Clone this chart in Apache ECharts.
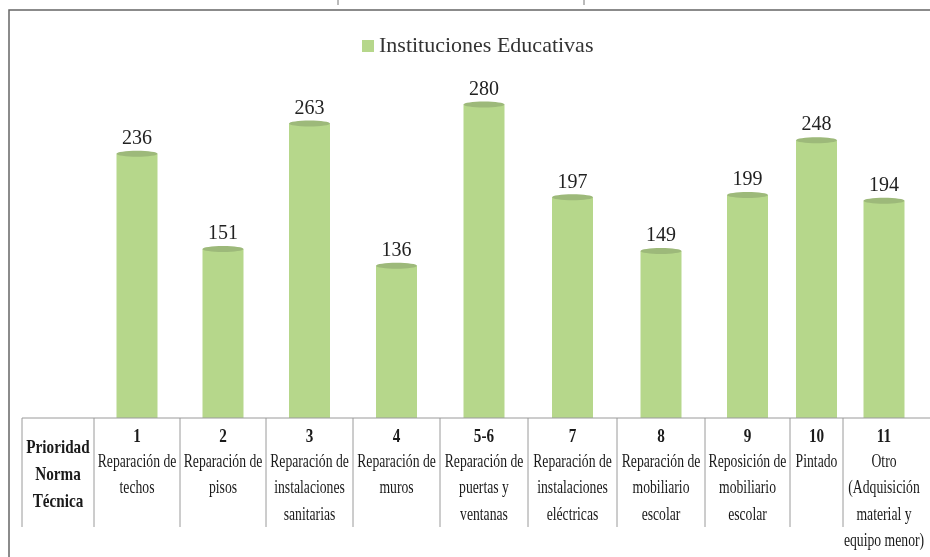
<!DOCTYPE html>
<html>
<head>
<meta charset="utf-8">
<script src="https://cdn.jsdelivr.net/npm/echarts@6/dist/echarts.min.js"></script>
<style>
  html, body { margin: 0; padding: 0; background: #fff; }
  #chart { width: 930px; height: 557px; }
</style>
</head>
<body>
<div id="chart"></div>
<script>
// data
const seriesName = "Instituciones Educativas";
const priorities = ["1", "2", "3", "4", "5-6", "7", "8", "9", "10", "11"];
const tasks = [
  "Reparación de\ntechos",
  "Reparación de\npisos",
  "Reparación de\ninstalaciones\nsanitarias",
  "Reparación de\nmuros",
  "Reparación de\npuertas y\nventanas",
  "Reparación de\ninstalaciones\neléctricas",
  "Reparación de\nmobiliario\nescolar",
  "Reposición de\nmobiliario\nescolar",
  "Pintado",
  "Otro\n(Adquisición\nmaterial y\nequipo menor)"
];
const counts = [236, 151, 263, 136, 280, 197, 149, 199, 248, 194];
const headerLabel = "Prioridad\nNorma\nTécnica";

// table layout (column borders in px)
const colEdges = [94, 180, 266, 353, 440, 528, 617, 705, 790, 843, 925];
const tableTop = 418;
const tableBottom = 527;
const tableLeft = 22;

const barColor = "#b6d78b";
const capColor = "#9db97a";
const textFont = "'Liberation Serif', 'DejaVu Serif', serif";

const centers = colEdges.slice(0, -1).map((e, i) => (e + colEdges[i + 1]) / 2);
const barData = counts.map((v, i) => [centers[i], v]);

const chart = echarts.init(document.getElementById("chart"));

// tabla inferior
const tableGraphics = [];
tableGraphics.push({
  type: "line",
  shape: { x1: tableLeft, y1: tableTop, x2: 930, y2: tableTop },
  style: { stroke: "#9a9a9a", lineWidth: 1 },
  z: 100
});
[tableLeft].concat(colEdges.slice(0, -1)).forEach(x => {
  tableGraphics.push({
    type: "line",
    shape: { x1: x, y1: tableTop, x2: x, y2: tableBottom },
    style: { stroke: "#9a9a9a", lineWidth: 1 },
    z: 100
  });
});
tableGraphics.push({
  type: "text",
  x: (tableLeft + colEdges[0]) / 2,
  y: 435,
  scaleX: 0.8,
  style: {
    text: headerLabel,
    fontFamily: textFont,
    fontSize: 19,
    fontWeight: "bold",
    lineHeight: 27,
    align: "center",
    verticalAlign: "top",
    fill: "#1a1a1a"
  }
});
priorities.forEach((p, i) => {
  tableGraphics.push({
    type: "text",
    x: centers[i],
    y: 424,
    scaleX: 0.8,
    style: {
      text: p,
      fontFamily: textFont,
      fontSize: 19,
      fontWeight: "bold",
      lineHeight: 26,
      align: "center",
      verticalAlign: "top",
      fill: "#1a1a1a"
    }
  });
  tableGraphics.push({
    type: "text",
    x: centers[i],
    y: 449,
    scaleX: 0.72,
    style: {
      text: tasks[i],
      fontFamily: textFont,
      fontSize: 19,
      lineHeight: 26.3,
      align: "center",
      verticalAlign: "top",
      fill: "#1a1a1a"
    }
  });
});

// marco exterior
const frameGraphics = [
  {
    type: "polyline",
    shape: { points: [[9, 557], [9, 10], [930, 10]] },
    style: { stroke: "#666", lineWidth: 1.5, fill: null }
  },
  { type: "line", shape: { x1: 338, y1: 0, x2: 338, y2: 5 }, style: { stroke: "#777", lineWidth: 1 } },
  { type: "line", shape: { x1: 584, y1: 0, x2: 584, y2: 5 }, style: { stroke: "#777", lineWidth: 1 } }
];

const option = {
  animation: false,
  legend: {
    data: [seriesName],
    left: 357,
    top: 30,
    itemWidth: 12,
    itemHeight: 12,
    itemGap: 10,
    icon: "rect",
    textStyle: { fontFamily: textFont, fontSize: 22, color: "#333" }
  },
  grid: { left: colEdges[0], right: 930 - colEdges[colEdges.length - 1], top: 82, bottom: 557 - tableTop },
  xAxis: {
    type: "value",
    min: colEdges[0],
    max: colEdges[colEdges.length - 1],
    show: false
  },
  yAxis: {
    type: "value",
    min: 0,
    max: 300,
    show: false
  },
  series: [
    {
      name: seriesName,
      type: "custom",
      itemStyle: { color: barColor },
      encode: { x: 0, y: 1 },
      data: barData,
      renderItem: (params, api) => {
        const top = api.coord([api.value(0), api.value(1)]);
        const base = api.coord([api.value(0), 0]);
        const w = 41;
        return {
          type: "group",
          children: [
            {
              type: "rect",
              shape: { x: top[0] - w / 2, y: top[1], width: w, height: base[1] - top[1] },
              style: { fill: barColor }
            },
            {
              type: "ellipse",
              shape: { cx: top[0], cy: top[1], rx: w / 2, ry: 3 },
              style: { fill: capColor }
            },
            {
              type: "text",
              x: top[0],
              y: top[1] - 5,
              style: {
                text: String(api.value(1)),
                fontFamily: textFont,
                fontSize: 20,
                align: "center",
                verticalAlign: "bottom",
                fill: "#222"
              }
            }
          ]
        };
      }
    }
  ],
  graphic: frameGraphics.concat(tableGraphics)
};

chart.setOption(option);
</script>
</body>
</html>
